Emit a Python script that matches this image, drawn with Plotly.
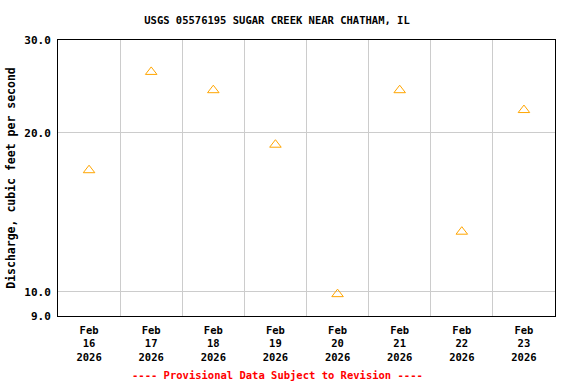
import plotly.graph_objects as go

dates = ["2026-02-16", "2026-02-17", "2026-02-18", "2026-02-19",
         "2026-02-20", "2026-02-21", "2026-02-22", "2026-02-23"]
discharge = [17.0, 26.1, 24.1, 19.0, 9.9, 24.1, 13.0, 22.1]
tick_labels = ["Feb<br>16<br>2026", "Feb<br>17<br>2026", "Feb<br>18<br>2026",
               "Feb<br>19<br>2026", "Feb<br>20<br>2026", "Feb<br>21<br>2026",
               "Feb<br>22<br>2026", "Feb<br>23<br>2026"]
y_ticks = [9, 10, 20, 30]
y_tick_labels = ["9.0", "10.0", "20.0", "30.0"]
grid_days = ["2026-02-17", "2026-02-18", "2026-02-19", "2026-02-20",
             "2026-02-21", "2026-02-22", "2026-02-23"]

x_noon = [d + " 12:00" for d in dates]
FONT = "DejaVu Sans Mono"

fig = go.Figure()
fig.add_trace(go.Scatter(
    x=x_noon, y=discharge, mode="markers",
    marker=dict(symbol="triangle-up-open", size=10, color="#FFA500",
                line=dict(width=1, color="#FFA500")),
    showlegend=False,
))

fig.update_layout(
    width=576, height=384,
    margin=dict(l=58, r=21, t=40, b=68),
    paper_bgcolor="white", plot_bgcolor="white",
    font=dict(family=FONT, color="black"),
    title=dict(text="<b>USGS 05576195 SUGAR CREEK NEAR CHATHAM, IL</b>",
               x=(277) / 576, xanchor="center", y=1 - 20 / 384, yanchor="middle",
               font=dict(family=FONT, size=10.5, color="black")),
    xaxis=dict(
        type="date", range=["2026-02-16", "2026-02-24"],
        tickmode="array", tickvals=x_noon,
        ticktext=["<b>" + t.replace("<br>", "</b><br><b>") + "</b>" for t in tick_labels],
        tickfont=dict(family=FONT, size=10.5, color="black"),
        ticklabelstandoff=4,
        showgrid=False, ticks="", zeroline=False, automargin=False,
        showline=True, linecolor="black", linewidth=1, mirror=True,
        minor=dict(tickmode="array", tickvals=grid_days, showgrid=True,
                   gridcolor="#cccccc", gridwidth=1, ticks=""),
    ),
    yaxis=dict(
        type="log", range=[0.954243, 1.477121],
        tickmode="array", tickvals=y_ticks,
        ticktext=["<b>" + t + "</b>" for t in y_tick_labels],
        tickfont=dict(family=FONT, size=11, color="black"),
        ticklabelstandoff=4,
        showgrid=True, gridcolor="#cccccc", gridwidth=1, ticks="",
        zeroline=False, showline=True, linecolor="black", linewidth=1, mirror=True,
        automargin=False,
        title=dict(text="<b>Discharge, cubic feet per second</b>",
                   font=dict(family=FONT, size=11.5, color="black"), standoff=6),
    ),
    annotations=[dict(
        text="<b>---- Provisional Data Subject to Revision ----</b>",
        xref="paper", yref="paper", x=(277 - 58) / 497, y=-(375 - 316) / 276,
        xanchor="center", yanchor="middle", showarrow=False,
        font=dict(family=FONT, size=10.5, color="red"),
    )],
)

fig.write_html("out.html", config={"displayModeBar": False},
               post_script="document.body.style.margin='0';document.body.style.padding='0';")
